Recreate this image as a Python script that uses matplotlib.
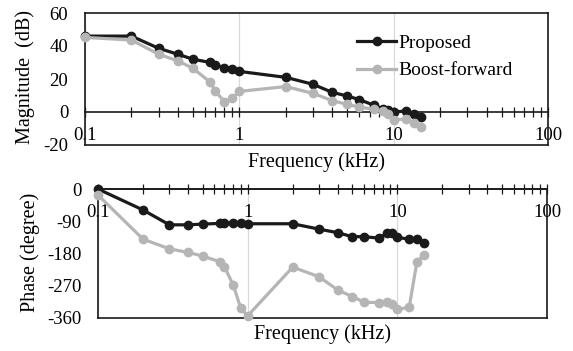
# Bode plot: proposed vs boost-forward (magnitude and phase)
import numpy as np
import matplotlib
matplotlib.use('Agg')
from matplotlib import pyplot as plt
from matplotlib.ticker import LogLocator, FixedLocator, NullFormatter, FixedFormatter

plt.rcParams['font.family'] = ['Liberation Serif', 'DejaVu Serif']
plt.rcParams['axes.unicode_minus'] = False

# data (frequency in kHz)
freq = [0.1, 0.2, 0.3, 0.4, 0.5, 0.65, 0.7, 0.8, 0.9, 1, 2, 3, 4, 5, 6,
        7.5, 8.5, 9.2, 10, 12, 13.5, 15]
mag_proposed = [46, 46, 38.6, 35, 32, 30, 28.5, 26.9, 25.9, 24.6, 21, 16.8,
                11.9, 9.7, 7.5, 4, 2, 1, 0, 0.6, -1.4, -3]
mag_boost = [45.2, 43.6, 35, 31, 26.5, 18, 12.5, 6.3, 8.3, 12.5, 15.4, 11.3,
             6.9, 4.6, 3, 1.6, 0.6, -1.5, -4.8, -4.2, -6.9, -8.9]
ph_proposed = [0, -58.6, -100, -100, -98, -96, -96, -96, -96, -97, -97, -112,
               -122, -133, -133, -137, -124, -124, -135, -140, -140, -150]
ph_boost = [-17, -140, -167, -177, -187, -203, -217, -268, -333, -354, -218,
            -245, -282, -300, -316, -317, -314, -321, -336, -330, -205, -184]

mag_ticks = [-20, 0, 20, 40, 60]
ph_ticks = [-360, -270, -180, -90, 0]
x_ticks = [0.1, 1, 10, 100]
x_ticklabels = ['0.1', '1', '10', '100']

black = '#1a1a1a'
gray = '#b5b5b5'

fig = plt.figure(figsize=(5.73, 3.51), dpi=100)
ax1 = fig.add_axes([85/573, 1-145/351, 463/573, 132/351])
ax2 = fig.add_axes([98/573, 1-318/351, 449/573, 129/351])


def style_axis(ax, yticks, ylim):
    ax.set_xscale('log')
    ax.set_xlim(0.1, 100)
    ax.set_ylim(*ylim)
    ax.set_yticks(yticks)
    ax.tick_params(axis='y', length=0, labelsize=13.5, pad=12)
    # x axis line drawn at zero, box border kept with an extra line
    ax.spines['bottom'].set_position(('data', 0))
    ax.axhline(ylim[0], color=black, lw=1.2, zorder=1, clip_on=False)
    ax.xaxis.set_major_locator(FixedLocator(x_ticks))
    ax.xaxis.set_major_formatter(FixedFormatter(x_ticklabels))
    ax.xaxis.set_minor_locator(LogLocator(base=10, subs=np.arange(2, 10)))
    ax.xaxis.set_minor_formatter(NullFormatter())
    ax.tick_params(axis='x', which='both', direction='inout', length=7,
                   width=0.9, color=black, labelsize=13.5, pad=7.5)
    for s in ax.spines.values():
        s.set_color(black)
        s.set_linewidth(1.2)
    ax.grid(True, axis='x', which='major', color='#d9d9d9', lw=0.9)
    ax.set_axisbelow(True)


style_axis(ax1, mag_ticks, (-20, 60))
style_axis(ax2, ph_ticks, (-360, 0))

kw = dict(lw=2.3, marker='o', markersize=6, clip_on=False, zorder=3)
ax1.plot(freq, mag_proposed, color=black, label='Proposed', **kw)
ax1.plot(freq, mag_boost, color=gray, label='Boost-forward', **kw)
ax2.plot(freq, ph_proposed, color=black, **kw)
ax2.plot(freq, ph_boost, color=gray, **kw)

ax1.legend(loc='upper left', bbox_to_anchor=(0.55, 0.97), frameon=False,
           fontsize=14, handlelength=2.0, handletextpad=0.1, labelspacing=0.5)

ax1.text(0.5, -0.055, 'Frequency (kHz)', transform=ax1.transAxes,
         ha='center', va='top', fontsize=14.5)
ax2.text(0.5, -0.05, 'Frequency (kHz)', transform=ax2.transAxes,
         ha='center', va='top', fontsize=14.5)
fig.text(25/573, 1-77/351, 'Magnitude  (dB)', rotation=90, ha='center',
         va='center', fontsize=14.5)
fig.text(30/573, 1-252/351, 'Phase (degree)', rotation=90, ha='center',
         va='center', fontsize=14.5)

fig.savefig('out.png', dpi=100)
